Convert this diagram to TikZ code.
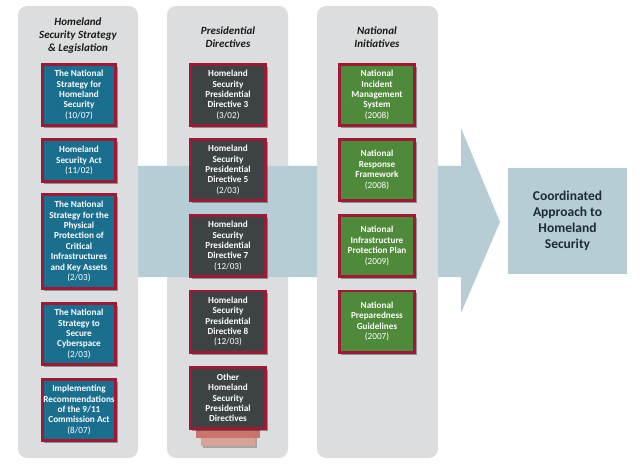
\documentclass[tikz,border=0pt]{standalone}
\usepackage{fontspec}
\setmainfont{Carlito}
\usetikzlibrary{shadows}
\definecolor{panelgray}{HTML}{DCDDDE}
\definecolor{bandblue}{HTML}{B6CDD6}
\definecolor{tealfill}{HTML}{1A6F8F}
\definecolor{darkfill}{HTML}{3D4244}
\definecolor{greenfill}{HTML}{4E8A3A}
\definecolor{crimson}{HTML}{9E1A34}
\definecolor{headtext}{HTML}{1A1A1A}
\definecolor{finaltext}{HTML}{1F2B33}
\definecolor{stackone}{HTML}{C8756D}
\definecolor{stacktwo}{HTML}{D9A296}
\begin{document}
\begin{tikzpicture}[x=1pt,y=-1pt,
  panel/.style={fill=panelgray, rounded corners=9pt},
  box/.style={draw=crimson, line width=2.6pt, text=white,
    font=\fontsize{9.2}{10.4}\selectfont\bfseries, align=center, inner sep=0pt,
    drop shadow={shadow xshift=2pt, shadow yshift=-2.5pt, opacity=0.35, fill=black}},
  tealbox/.style={box, fill=tealfill, minimum width=73.4pt},
  darkbox/.style={box, fill=darkfill, minimum width=75.4pt, minimum height=61.4pt},
  greenbox/.style={box, fill=greenfill, minimum width=75.4pt, minimum height=61.4pt},
  header/.style={text=headtext, font=\fontsize{11}{13}\selectfont\bfseries\itshape, align=center, inner sep=0pt},
]
\newcommand{\dte}[1]{{\mdseries #1}}
\useasboundingbox (0,0) rectangle (640,468);
\fill[white] (0,0) rectangle (640,468);
% column 2 panel (under the band)
\path[panel] (167,6) rectangle (288,458);
% big arrow
\fill[bandblue] (130,166) -- (461,166) -- (461,128) -- (500,222) -- (461,313) -- (461,277) -- (130,277) -- cycle;
% columns 1 and 3 panels
\path[panel] (18,6) rectangle (138,458);
\path[panel] (317,6) rectangle (438,458);
% final box
\node[fill=bandblue, minimum width=119pt, minimum height=106pt, inner sep=0pt, align=center,
  text=finaltext, font=\fontsize{13.5}{16}\selectfont\bfseries] (final) at (567.5,221)
  {Coordinated\\Approach to\\Homeland\\Security};
% headers
\node[header] (h1) at (78,36) {Homeland\\Security Strategy\\\& Legislation};
\node[header] (h2) at (228,37) {Presidential\\Directives};
\node[header] (h3) at (377,37) {National\\Initiatives};
% column 1
\node[tealbox, minimum height=61.4pt] (a1) at (79,95) {The National\\Strategy for\\Homeland\\Security\\\dte{(10/07)}};
\node[tealbox, minimum height=42.4pt] (a2) at (79,160.5) {Homeland\\Security Act\\\dte{(11/02)}};
\node[tealbox, minimum height=94.4pt] (a3) at (79,241.5) {The National\\Strategy for the\\Physical\\Protection of\\Critical\\Infrastructures\\and Key Assets\\\dte{(2/03)}};
\node[tealbox, minimum height=61.4pt] (a4) at (79,334) {The National\\Strategy to\\Secure\\Cyberspace\\\dte{(2/03)}};
\node[tealbox, minimum height=61.4pt] (a5) at (79,410) {Implementing\\Recommendations\\of the 9/11\\Commission Act\\\dte{(8/07)}};
% column 2
\node[darkbox] (b1) at (228,95) {Homeland\\Security\\Presidential\\Directive 3\\\dte{(3/02)}};
\node[darkbox] (b2) at (228,170) {Homeland\\Security\\Presidential\\Directive 5\\\dte{(2/03)}};
\node[darkbox] (b3) at (228,246) {Homeland\\Security\\Presidential\\Directive 7\\\dte{(12/03)}};
\node[darkbox] (b4) at (228,321.5) {Homeland\\Security\\Presidential\\Directive 8\\\dte{(12/03)}};
\fill[stacktwo, drop shadow={shadow xshift=1.5pt, shadow yshift=-1.5pt, opacity=0.25, fill=black}] (201,425) rectangle (255,446);
\fill[stackone] (196,425) rectangle (260,438);
\node[darkbox] (b5) at (228,398) {Other\\Homeland\\Security\\Presidential\\Directives};
% column 3
\node[greenbox] (c1) at (377,95) {National\\Incident\\Management\\System\\\dte{(2008)}};
\node[greenbox] (c2) at (377,170) {National\\Response\\Framework\\\dte{(2008)}};
\node[greenbox] (c3) at (377,246) {National\\Infrastructure\\Protection Plan\\\dte{(2009)}};
\node[greenbox] (c4) at (377,321.5) {National\\Preparedness\\Guidelines\\\dte{(2007)}};
\end{tikzpicture}
\end{document}
